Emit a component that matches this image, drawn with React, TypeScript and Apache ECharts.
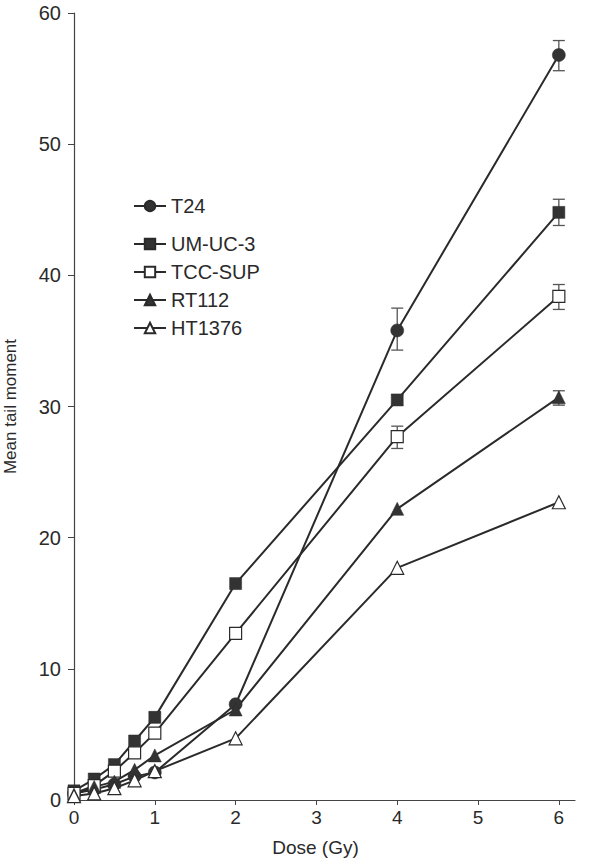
import React, { useEffect, useRef } from "react";
import * as echarts from "echarts";

const doses = [0, 0.25, 0.5, 0.75, 1, 2, 4, 6];
const t24 = [0.5, 0.8, 1.2, 1.8, 2.1, 7.3, 35.8, 56.8];
const umuc3 = [0.7, 1.6, 2.7, 4.5, 6.3, 16.5, 30.5, 44.8];
const tccsup = [0.5, 1.1, 2.2, 3.6, 5.1, 12.7, 27.7, 38.4];
const rt112 = [0.4, 1.0, 1.4, 2.3, 3.4, 6.9, 22.2, 30.7];
const ht1376 = [0.3, 0.5, 0.9, 1.5, 2.2, 4.7, 17.7, 22.7];

// [dose, low, high]
const errT24 = [[4, 34.3, 37.5], [6, 55.6, 57.9]];
const errUmuc3 = [[1, 6.0, 6.7], [4, 30.1, 30.9], [6, 43.8, 45.8]];
const errTccsup = [[4, 26.8, 28.5], [6, 37.4, 39.3]];
const errRt112 = [[6, 30.1, 31.2]];

const xTicks = [0, 1, 2, 3, 4, 5, 6];
const yTicks = [0, 10, 20, 30, 40, 50, 60];

const FONT = "'Liberation Sans', Arial, sans-serif";
const INK = "#2a2a2a";

export default function App() {
  const ref = useRef<HTMLDivElement>(null);
  useEffect(() => {
    if (!ref.current) return;
    const chart = echarts.init(ref.current, undefined, { renderer: "svg" });
    const pair = (ys: number[]) => doses.map((d, i) => [d, ys[i]]);
    const lineSeries = (name: string, ys: number[], symbol: string, size: number, fill: string) => ({
      name,
      type: "line",
      data: pair(ys),
      symbol,
      symbolSize: size,
      showAllSymbol: true,
      lineStyle: { color: INK, width: 2 },
      itemStyle: { color: fill, borderColor: INK, borderWidth: fill === "#ffffff" ? 1.2 : 0.5 },
      z: 3,
    });
    const errSeries = (data: number[][]) => ({
      type: "custom",
      data,
      z: 2,
      silent: true,
      renderItem: (params: any, api: any) => {
        const x = api.value(0);
        const lo = api.value(1);
        const hi = api.value(2);
        const p1 = api.coord([x, hi]);
        const p2 = api.coord([x, lo]);
        const w = 6;
        const style = { stroke: "#555", lineWidth: 1.3 };
        return {
          type: "group",
          children: [
            { type: "line", shape: { x1: p1[0], y1: p1[1], x2: p2[0], y2: p2[1] }, style },
            { type: "line", shape: { x1: p1[0] - w, y1: p1[1], x2: p1[0] + w, y2: p1[1] }, style },
            { type: "line", shape: { x1: p2[0] - w, y1: p2[1], x2: p2[0] + w, y2: p2[1] }, style },
          ],
        };
      },
    });
    const legendText = { fontFamily: FONT, fontSize: 20, color: INK };
    chart.setOption({
      animation: false,
      backgroundColor: "#ffffff",
      grid: { left: 74, right: 25, top: 13, bottom: 60, containLabel: false, outerBoundsMode: "none" },
      legend: [
        {
          data: ["T24"],
          orient: "vertical",
          left: 128,
          top: 191,
          itemWidth: 32,
          itemHeight: 13,
          itemGap: 0,
          textStyle: legendText,
        },
        {
          data: ["UM-UC-3", "TCC-SUP", "RT112", "HT1376"],
          orient: "vertical",
          left: 128,
          top: 229,
          itemGap: 8,
          itemWidth: 32,
          itemHeight: 13,
          textStyle: legendText,
        },
      ],
      xAxis: {
        type: "value",
        min: 0,
        max: 6.2,
        name: "Dose (Gy)",
        nameLocation: "middle",
        nameGap: 38,
        nameTextStyle: { fontFamily: FONT, fontSize: 19, color: INK, padding: [0, 18, 0, 0] },
        splitLine: { show: false },
        axisLine: { onZero: false, lineStyle: { color: "#444", width: 1.2 } },
        axisTick: { show: true, length: 5, customValues: xTicks, lineStyle: { color: "#444" } },
        axisLabel: { customValues: xTicks, fontFamily: FONT, fontSize: 19, color: INK, margin: 8 },
      },
      yAxis: {
        type: "value",
        min: 0,
        max: 60,
        interval: 10,
        name: "Mean tail moment",
        nameLocation: "middle",
        nameGap: 55,
        nameTextStyle: { fontFamily: FONT, fontSize: 17, color: INK },
        splitLine: { show: false },
        axisLine: { show: true, lineStyle: { color: "#444", width: 1.2 } },
        axisTick: { show: true, length: 6, customValues: yTicks, lineStyle: { color: "#444" } },
        axisLabel: { customValues: yTicks, fontFamily: FONT, fontSize: 20, color: INK, margin: 13 },
      },
      series: [
        errSeries(errT24),
        errSeries(errUmuc3),
        errSeries(errTccsup),
        errSeries(errRt112),
        lineSeries("T24", t24, "circle", 13, "#333333"),
        lineSeries("UM-UC-3", umuc3, "rect", 12, "#333333"),
        lineSeries("TCC-SUP", tccsup, "rect", 12, "#ffffff"),
        lineSeries("RT112", rt112, "triangle", 13, "#333333"),
        lineSeries("HT1376", ht1376, "triangle", 13, "#ffffff"),
      ],
    });
    return () => chart.dispose();
  }, []);
  return <div ref={ref} style={{ width: 600, height: 860, position: "absolute", left: 0, top: 0 }} />;
}
